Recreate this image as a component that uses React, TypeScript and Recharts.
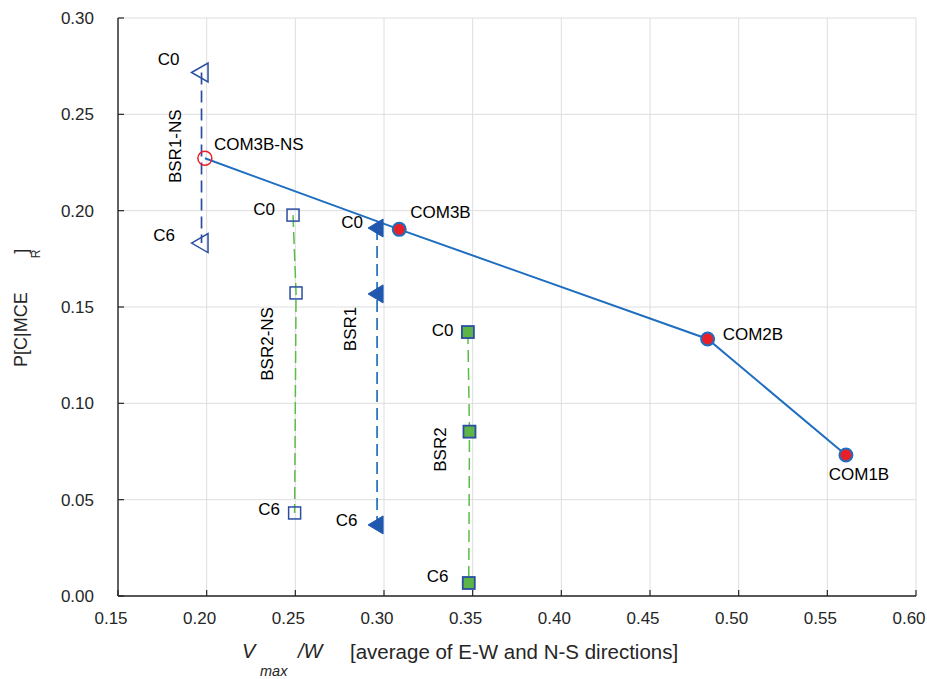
import React from 'react';
import { ComposedChart, Line, XAxis, YAxis, CartesianGrid } from 'recharts';

// ---------- data ----------
const xTicks = [0.15, 0.2, 0.25, 0.3, 0.35, 0.4, 0.45, 0.5, 0.55, 0.6];
const yTicks = [0, 0.05, 0.1, 0.15, 0.2, 0.25, 0.3];

const comX = [0.199, 0.3086, 0.4825, 0.5605];
const comY = [0.2272, 0.1903, 0.1334, 0.0732];
const comNames = ['COM3B-NS', 'COM3B', 'COM2B', 'COM1B'];

const bsr1nsX = [0.1971, 0.1971];
const bsr1nsY = [0.2717, 0.1832];
const bsr1nsNames = ['C0', 'C6'];

const bsr2nsX = [0.2487, 0.2504, 0.2496];
const bsr2nsY = [0.1977, 0.1573, 0.0431];
const bsr2nsNames = ['C0', '', 'C6'];

const bsr1X = [0.2961, 0.2961, 0.2961];
const bsr1Y = [0.191, 0.1568, 0.0369];
const bsr1Names = ['C0', '', 'C6'];

const bsr2X = [0.3473, 0.3482, 0.3478];
const bsr2Y = [0.137, 0.0853, 0.00675];
const bsr2Names = ['C0', '', 'C6'];

const seriesTitles = { bsr1ns: 'BSR1-NS', bsr2ns: 'BSR2-NS', bsr1: 'BSR1', bsr2: 'BSR2' };

const toRows = (xs: number[], ys: number[], names: string[]) =>
  xs.map((x, i) => ({ x, y: ys[i], name: names[i] }));

const comRows = toRows(comX, comY, comNames);
const bsr1nsRows = toRows(bsr1nsX, bsr1nsY, bsr1nsNames);
const bsr2nsRows = toRows(bsr2nsX, bsr2nsY, bsr2nsNames);
const bsr1Rows = toRows(bsr1X, bsr1Y, bsr1Names);
const bsr2Rows = toRows(bsr2X, bsr2Y, bsr2Names);

// ---------- styles ----------
const FONT = "'Liberation Sans', Arial, Helvetica, sans-serif";
const AXIS = '#262626';
const BLUE = '#1f6fc0';
const DARKBLUE = '#2b4ea2';
const RED = '#e8202a';
const GREEN = '#5cbc47';
const GREEN_FILL = '#5db548';

type Pos = [number, number, 'start' | 'middle' | 'end'] | null;
const POINT_LABEL_POS: Record<string, Pos[]> = {
  com: [[9, -8, 'start'], [11, -11, 'start'], [15, 1, 'start'], [13, 25, 'middle']],
  bsr1ns: [[-22, -7.5, 'end'], [-26.5, -2, 'end']],
  bsr2ns: [[-18, 0, 'end'], null, [-14.7, 2, 'end']],
  bsr1: [[-14, 0, 'end'], null, [-19.7, 1, 'end']],
  bsr2: [[-14.5, 4, 'end'], null, [-20.4, -1.3, 'end']],
};
const TITLE_POS: Record<string, [number, number]> = {
  bsr1ns: [-20.8, 73.7],
  bsr2ns: [-19.7, 128.8],
  bsr1: [-21, 101],
  bsr2: [-22, 117.5],
};

const marker = (kind: string, cx: number, cy: number, index: number) => {
  switch (kind) {
    case 'com':
      return index === 0 ? (
        <circle cx={cx} cy={cy} r={7} fill="none" stroke={RED} strokeWidth={1.5} />
      ) : (
        <circle cx={cx} cy={cy} r={6.5} fill={RED} stroke={BLUE} strokeWidth={2} />
      );
    case 'bsr1ns':
      return (
        <polygon
          points={`${cx - 10},${cy} ${cx + 6.5},${cy - 9.5} ${cx + 6.5},${cy + 9.5}`}
          fill="none"
          stroke={DARKBLUE}
          strokeWidth={1.5}
        />
      );
    case 'bsr1':
      return (
        <polygon
          points={`${cx - 9},${cy} ${cx + 6},${cy - 9} ${cx + 6},${cy + 9}`}
          fill="#1f58ae"
          stroke="#1f58ae"
          strokeWidth={1}
        />
      );
    case 'bsr2ns':
      return (
        <rect x={cx - 6} y={cy - 6} width={12} height={12} fill="none" stroke={DARKBLUE} strokeWidth={1.5} />
      );
    default:
      return (
        <rect x={cx - 6} y={cy - 6} width={12} height={12} fill={GREEN_FILL} stroke={DARKBLUE} strokeWidth={1.8} />
      );
  }
};

const makeDot = (kind: string) => (props: any) => {
  const { cx, cy, index, payload } = props;
  if (cx == null || cy == null) return <g key={`${kind}-${index}`} />;
  const pos = POINT_LABEL_POS[kind][index];
  const title = (seriesTitles as any)[kind];
  const tp = TITLE_POS[kind];
  return (
    <g key={`${kind}-${index}`}>
      {marker(kind, cx, cy, index)}
      {pos && payload.name ? (
        <text x={cx + pos[0]} y={cy + pos[1]} textAnchor={pos[2]} fontSize={17} fontFamily={FONT} fill="#000">
          {payload.name}
        </text>
      ) : null}
      {index === 0 && title && tp ? (
        <text
          transform={`translate(${cx + tp[0]},${cy + tp[1]}) rotate(-90)`}
          textAnchor="middle"
          fontSize={17}
          fontFamily={FONT}
          fill="#000"
        >
          {title}
        </text>
      ) : null}
    </g>
  );
};

const XLabel = () => (
  <g fontFamily={FONT} fill={AXIS}>
    <text x={234} y={650} fontSize={20} fontStyle="italic">V</text>
    <text x={252} y={668} fontSize={14.5} fontStyle="italic">max</text>
    <text x={290} y={650} fontSize={20} fontStyle="italic">/W</text>
    <text x={342} y={651} fontSize={20.5}>[average of E-W and N-S directions]</text>
  </g>
);

const YLabel = () => (
  <text transform="translate(19,359) rotate(-90)" fontFamily={FONT} fill={AXIS} fontSize={18}>
    P[C|MCE
    <tspan dx={34} dy={13} fontSize={12}>R</tspan>
    <tspan dx={-4} dy={-13}>]</tspan>
  </text>
);

const fmt = (v: number) => v.toFixed(2);
const tickStyle = { fontSize: 17, fontFamily: FONT, fill: AXIS };

const XTick = (props: any) => {
  const { x, y, payload } = props;
  return (
    <text x={x - 7} y={y} dy="0.71em" textAnchor="middle" fontSize={17} fontFamily={FONT} fill={AXIS}>
      {fmt(payload.value)}
    </text>
  );
};

export default function App() {
  return (
    <div style={{ width: 927, height: 679, padding: '8px 0 0 8px', boxSizing: 'border-box', overflow: 'hidden' }}>
      <style>{'body{margin:0}'}</style>
      <ComposedChart width={919} height={671} margin={{ top: 10, right: 11, bottom: 33, left: 50 }}>
        <CartesianGrid stroke="#dedede" strokeWidth={1} />
        <XAxis
          xAxisId={0}
          type="number"
          dataKey="x"
          domain={[0.15, 0.6]}
          ticks={xTicks}
          interval={0}
          allowDataOverflow
          tick={<XTick />}
          tickSize={-6}
          tickMargin={22}
          height={50}
          stroke={AXIS}
          axisLine={{ stroke: AXIS, strokeWidth: 1.4 }}
          tickLine={{ stroke: AXIS, strokeWidth: 1.2 }}
          label={<XLabel />}
        />
        <XAxis
          xAxisId="top"
          orientation="top"
          type="number"
          domain={[0.15, 0.6]}
          ticks={xTicks}
          interval={0}
          allowDataOverflow
          tick={false}
          tickSize={-6}
          height={0}
          axisLine={{ stroke: AXIS, strokeWidth: 1.4 }}
          tickLine={{ stroke: AXIS, strokeWidth: 1.2 }}
        />
        <YAxis
          yAxisId={0}
          type="number"
          domain={[0, 0.3]}
          ticks={yTicks}
          interval={0}
          allowDataOverflow
          tickFormatter={fmt}
          tick={tickStyle}
          tickSize={-6}
          tickMargin={30}
          width={60}
          axisLine={{ stroke: AXIS, strokeWidth: 1.4 }}
          tickLine={{ stroke: AXIS, strokeWidth: 1.2 }}
          label={<YLabel />}
        />
        <YAxis
          yAxisId="right"
          orientation="right"
          type="number"
          domain={[0, 0.3]}
          ticks={yTicks}
          interval={0}
          allowDataOverflow
          tick={false}
          tickSize={-6}
          width={0}
          axisLine={{ stroke: AXIS, strokeWidth: 1.4 }}
          tickLine={{ stroke: AXIS, strokeWidth: 1.2 }}
        />
        <Line
          data={bsr1nsRows}
          dataKey="y"
          type="linear"
          stroke={DARKBLUE}
          strokeWidth={1.7}
          strokeDasharray="12 6"
          dot={makeDot('bsr1ns')}
          activeDot={false}
          isAnimationActive={false}
        />
        <Line
          data={bsr2nsRows}
          dataKey="y"
          type="linear"
          stroke={GREEN}
          strokeWidth={1.5}
          strokeDasharray="12 5"
          dot={makeDot('bsr2ns')}
          activeDot={false}
          isAnimationActive={false}
        />
        <Line
          data={bsr1Rows}
          dataKey="y"
          type="linear"
          stroke={BLUE}
          strokeWidth={1.7}
          strokeDasharray="12 6"
          dot={makeDot('bsr1')}
          activeDot={false}
          isAnimationActive={false}
        />
        <Line
          data={bsr2Rows}
          dataKey="y"
          type="linear"
          stroke={GREEN}
          strokeWidth={1.5}
          strokeDasharray="12 6"
          dot={makeDot('bsr2')}
          activeDot={false}
          isAnimationActive={false}
        />
        <Line
          data={comRows}
          dataKey="y"
          type="linear"
          stroke={BLUE}
          strokeWidth={2}
          dot={makeDot('com')}
          activeDot={false}
          isAnimationActive={false}
        />
      </ComposedChart>
    </div>
  );
}
